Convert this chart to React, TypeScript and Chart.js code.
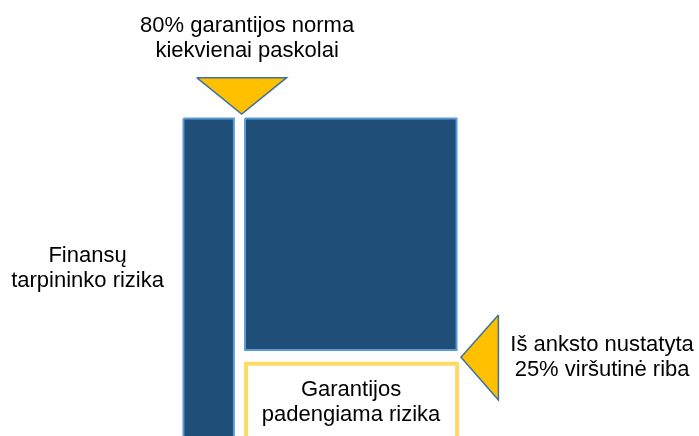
import React, { useEffect, useRef } from "react";
import { Chart, registerables } from "chart.js";

Chart.register(...registerables);

// Diagram units: x = share of the loan portfolio, y = loss level
const intermediaryX = [0.6, 20, 20, 0.6, 0.6];
const intermediaryY = [158.75, 158.75, -20, -20, 158.75];

const portfolioX = [24.3, 105.7, 105.7, 24.3, 24.3];
const portfolioY = [158.75, 158.75, 43, 43, 158.75];

const coveredX = [24.7, 24.7, 105.9, 105.9];
const coveredY = [-20, 36.15, 36.15, -20];

const rateMarkerX = [5.7, 40.3, 23.0, 5.7];
const rateMarkerY = [179.15, 179.15, 161, 179.15];

const capMarkerX = [121.8, 121.8, 107.4, 121.8];
const capMarkerY = [60.5, 18, 39.35, 60.5];

const labelLines = [
  ["80% garantijos norma", "kiekvienai paskolai"],
  ["Finansų", "tarpininko rizika"],
  ["Iš anksto nustatyta", "25% viršutinė riba"],
  ["Garantijos", "padengiama rizika"],
];
const labelX = [25.1, -36.3, 161.7, 65.1];
const labelY = [202, 87, 42.5, 19.8];

const X_MIN = -70;
const X_MAX = 199;
const Y_MIN = 0;
const Y_MAX = 218;

const DARK = "#1F4E79";
const DARK_EDGE = "#5B9BD5";
const GOLD = "#FFC000";
const GOLD_EDGE = "#41719C";
const LIGHT_GOLD = "#FFD966";

const toPoints = (xs: number[], ys: number[]) => xs.map((x, i) => ({ x, y: ys[i] }));

const labelPlugin = {
  id: "diagramLabels",
  afterDatasetsDraw(chart: any) {
    const { ctx, scales } = chart;
    ctx.save();
    ctx.fillStyle = "#000000";
    ctx.font = '22px "Liberation Sans", Arial, sans-serif';
    ctx.textAlign = "center";
    ctx.textBaseline = "alphabetic";
    labelLines.forEach((lines, i) => {
      const px = scales.x.getPixelForValue(labelX[i]);
      const py = scales.y.getPixelForValue(labelY[i]);
      lines.forEach((line, j) => {
        ctx.fillText(line, px, py + j * 25);
      });
    });
    ctx.restore();
  },
};

export default function App() {
  const canvasRef = useRef<HTMLCanvasElement | null>(null);

  useEffect(() => {
    document.body.style.margin = "0";
    const canvas = canvasRef.current;
    if (!canvas) return;
    const shape = (xs: number[], ys: number[], bg: string, edge: string, w: number) => ({
      data: toPoints(xs, ys),
      backgroundColor: bg,
      borderColor: edge,
      borderWidth: w,
      fill: "shape",
      pointRadius: 0,
      tension: 0,
      borderJoinStyle: "miter",
    });
    const chart = new Chart(canvas, {
      type: "line",
      data: {
        datasets: [
          shape(rateMarkerX, rateMarkerY, GOLD, GOLD_EDGE, 1.5),
          shape(capMarkerX, capMarkerY, GOLD, GOLD_EDGE, 1.5),
          shape(intermediaryX, intermediaryY, DARK, DARK_EDGE, 2),
          shape(portfolioX, portfolioY, DARK, DARK_EDGE, 2),
          shape(coveredX, coveredY, "#FFFFFF", LIGHT_GOLD, 4),
        ] as any,
      },
      options: {
        animation: false,
        responsive: true,
        maintainAspectRatio: false,
        events: [],
        layout: { padding: 0 },
        plugins: { legend: { display: false }, tooltip: { enabled: false } },
        scales: {
          x: { type: "linear", min: X_MIN, max: X_MAX, display: false },
          y: { type: "linear", min: Y_MIN, max: Y_MAX, display: false },
        },
      },
      plugins: [labelPlugin],
    });
    return () => chart.destroy();
  }, []);

  return (
    <div style={{ width: 699, height: 436, position: "relative", background: "#FFFFFF" }}>
      <canvas ref={canvasRef} />
    </div>
  );
}
